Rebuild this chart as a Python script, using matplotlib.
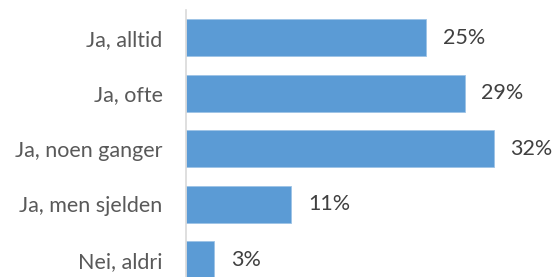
import matplotlib
matplotlib.use('Agg')
import matplotlib.pyplot as plt

plt.rcParams['font.family'] = ['Lato', 'DejaVu Sans']

categories = ['Ja, alltid', 'Ja, ofte', 'Ja, noen ganger', 'Ja, men sjelden', 'Nei, aldri']
values = [25, 29, 32, 11, 3]

W, H = 554, 277
fig = plt.figure(figsize=(W / 100, H / 100), dpi=100)

# plot area: left edge at x=185px, 9.63 px per percent, rows 55.5 px apart
xmax = 38
left = 185.5 / W
width = xmax * 9.63 / W
top = 1 - 10 / H
height = 5 * 55.5 / H
ax = fig.add_axes([left, top - height, width, height])

y = range(len(categories))
ax.barh(y, values, height=0.67, color='#5B9BD5', edgecolor='#9DC3E6', linewidth=0.6)
for i, v in enumerate(values):
    ax.text(v + 1.7, i, f'{v}%', va='center', ha='left', fontsize=15.5, color='#404040')

ax.set_xlim(0, xmax)
ax.set_ylim(4.5, -0.5)
ax.set_yticks(list(y))
ax.set_yticklabels(categories, fontsize=15.5, color='#595959')
ax.tick_params(axis='y', length=0, pad=16.5)
ax.set_xticks([])
for s in ['top', 'right', 'bottom']:
    ax.spines[s].set_visible(False)
ax.spines['left'].set_color('#D9D9D9')
ax.spines['left'].set_linewidth(1.2)

fig.savefig('out.png', dpi=100)
